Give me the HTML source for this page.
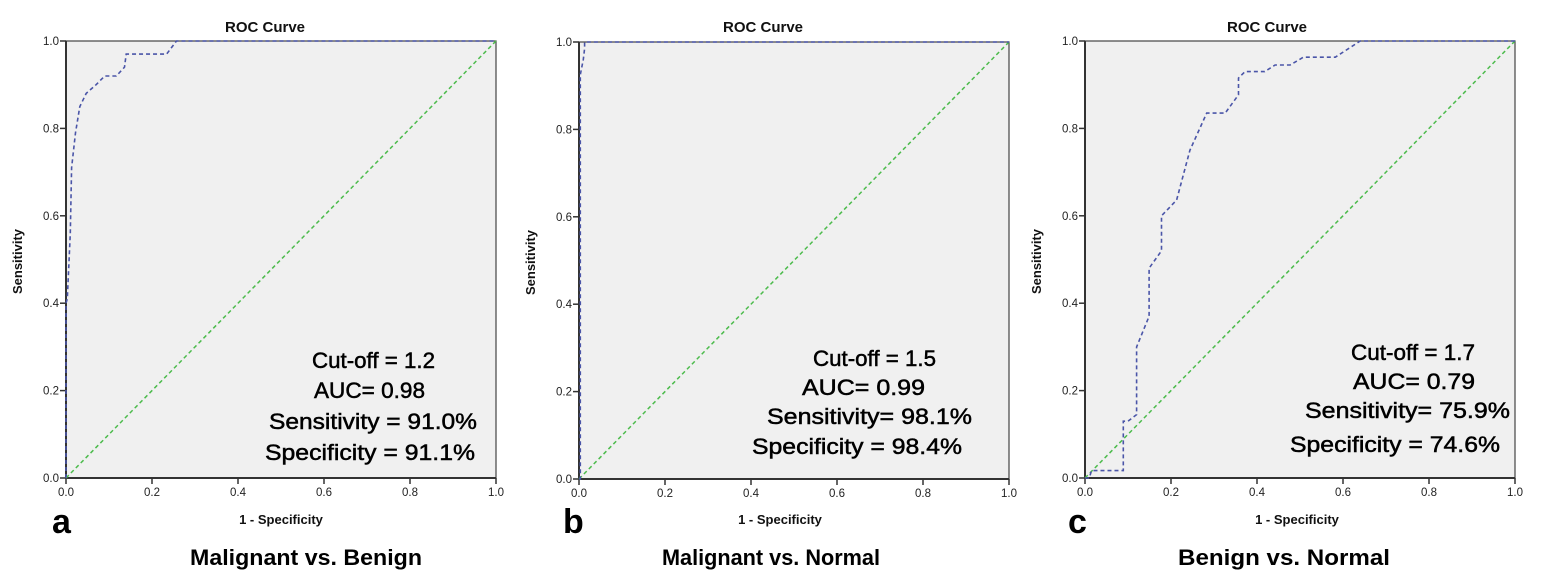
<!DOCTYPE html>
<html><head><meta charset="utf-8"><style>
body{margin:0;background:#fff;}
svg{display:block;font-family:"Liberation Sans",Arial,sans-serif;}
</style></head><body>
<svg id="fig" width="1545" height="579" viewBox="0 0 1545 579"></svg>
<script>
const ticks=[0,0.2,0.4,0.6,0.8,1.0];
const tickLabels=["0.0","0.2","0.4","0.6","0.8","1.0"];
const fprA=[0,0,0.003,0.01,0.013,0.022,0.032,0.047,0.07,0.09,0.117,0.136,0.14,0.234,0.257,1];
const tprA=[0,0.4,0.41,0.56,0.71,0.79,0.85,0.88,0.9,0.92,0.92,0.94,0.97,0.97,1,1];
const fprB=[0,0.003,0.003,0.01,0.013,0.013,0.02,1];
const tprB=[0,0,0.925,0.96,0.985,1,1,1];
const fprC=[0,0.01,0.015,0.089,0.089,0.1,0.12,0.12,0.149,0.149,0.178,0.178,0.213,0.244,0.283,0.326,0.357,0.357,0.372,0.418,0.442,0.477,0.508,0.582,0.64,1];
const tprC=[0,0,0.017,0.017,0.13,0.13,0.145,0.3,0.37,0.48,0.52,0.6,0.636,0.75,0.835,0.835,0.877,0.915,0.93,0.93,0.945,0.945,0.963,0.963,1,1];
const panels=[
 {id:"a",x0:66,y0:41,fpr:fprA,tpr:tprA,title:265,xlab:281,letter:52,sub:"Malignant vs. Benign",subx:190,subw:232,
  notes:[["Cut-off = 1.2",312,368,123],["AUC= 0.98",314,398,111],["Sensitivity = 91.0%",269,429,208],["Specificity = 91.1%",265,460,210]]},
 {id:"b",x0:579,y0:42,fpr:fprB,tpr:tprB,title:763,xlab:780,letter:563,sub:"Malignant vs. Normal",subx:662,subw:218,
  notes:[["Cut-off = 1.5",813,366,123],["AUC= 0.99",802,395,123],["Sensitivity= 98.1%",767,424,205],["Specificity = 98.4%",752,454,210]]},
 {id:"c",x0:1085,y0:41,fpr:fprC,tpr:tprC,title:1267,xlab:1297,letter:1068,sub:"Benign vs. Normal",subx:1178,subw:212,
  notes:[["Cut-off = 1.7",1351,360,124],["AUC= 0.79",1353,389,122],["Sensitivity= 75.9%",1305,418,205],["Specificity = 74.6%",1290,452,210]]}
];
const NS="http://www.w3.org/2000/svg";
const svg=document.getElementById("fig");
function mk(tag,attrs,parent,text){const e=document.createElementNS(NS,tag);for(const k in attrs)e.setAttribute(k,attrs[k]);if(text!==undefined)e.textContent=text;(parent||svg).appendChild(e);return e;}
const W=430,H=437;
panels.forEach(p=>{
 const g=mk("g",{});
 
 
 const sx=v=>p.x0+v*W, sy=v=>p.y0+H-v*H;
 const bg=mk("rect",{x:p.x0,y:p.y0,width:W,height:H,fill:"#f0f0f0",stroke:"#444","stroke-width":1.2},g);
 
 
 mk("line",{x1:p.x0,y1:p.y0,x2:p.x0,y2:p.y0+H,stroke:"#333","stroke-width":2},g);
 mk("line",{x1:p.x0,y1:p.y0+H,x2:p.x0+W,y2:p.y0+H,stroke:"#333","stroke-width":2},g);
 ticks.forEach((t,i)=>{
  mk("line",{x1:p.x0-6,y1:sy(t),x2:p.x0,y2:sy(t),stroke:"#333","stroke-width":1.5},g);
  const yl=mk("text",{x:p.x0-7,y:sy(t)+4,"font-size":11.5,"text-anchor":"end",fill:"#222"},g,tickLabels[i]);
  
  
  mk("line",{x1:sx(t),y1:p.y0+H,x2:sx(t),y2:p.y0+H+6,stroke:"#333","stroke-width":1.5},g);
  const xl=mk("text",{x:sx(t),y:p.y0+H+18,"font-size":11.5,"text-anchor":"middle",fill:"#222"},g,tickLabels[i]);
  
  
 });
 const ref=mk("line",{x1:sx(0),y1:sy(0),x2:sx(1),y2:sy(1),stroke:"#4cbb4c","stroke-width":1.5,"stroke-dasharray":"4,3"},g);
 
 
 const d=p.fpr.map((f,i)=>(i?"L":"M")+sx(f).toFixed(1)+","+sy(p.tpr[i]).toFixed(1)).join(" ");
 const c=mk("path",{d:d,fill:"none",stroke:"#4a55a8","stroke-width":1.6,"stroke-dasharray":"4,3"},g);
 
 
 const t=mk("text",{x:p.title,y:32,"font-size":15,"font-weight":"bold","text-anchor":"middle",fill:"#111"},g,"ROC Curve");
 
 
 const xt=mk("text",{x:p.xlab,y:524,"font-size":13,"font-weight":"bold","text-anchor":"middle",fill:"#111"},g,"1 - Specificity");
 
 
 const yx=p.x0-44, yy=p.y0+H/2+2;
 const yt=mk("text",{x:yx,y:yy,"font-size":13,"font-weight":"bold","text-anchor":"middle",fill:"#111",transform:`rotate(-90 ${yx} ${yy})`},g,"Sensitivity");
 
 
 const L=mk("text",{x:p.letter,y:533,"font-size":34,"font-weight":"bold",fill:"#000"},g,p.id);
 
 
 const s=mk("text",{x:p.subx,y:565,"font-size":22,"font-weight":"bold",fill:"#000",textLength:p.subw,lengthAdjust:"spacingAndGlyphs"},g,p.sub);
 
 
 p.notes.forEach(n=>{
  const e=mk("text",{x:n[1],y:n[2],"font-size":22,fill:"#000",stroke:"#000","stroke-width":0.5,textLength:n[3],lengthAdjust:"spacingAndGlyphs"},g,n[0]);
  
  
 });
});
</script>
</body></html>
